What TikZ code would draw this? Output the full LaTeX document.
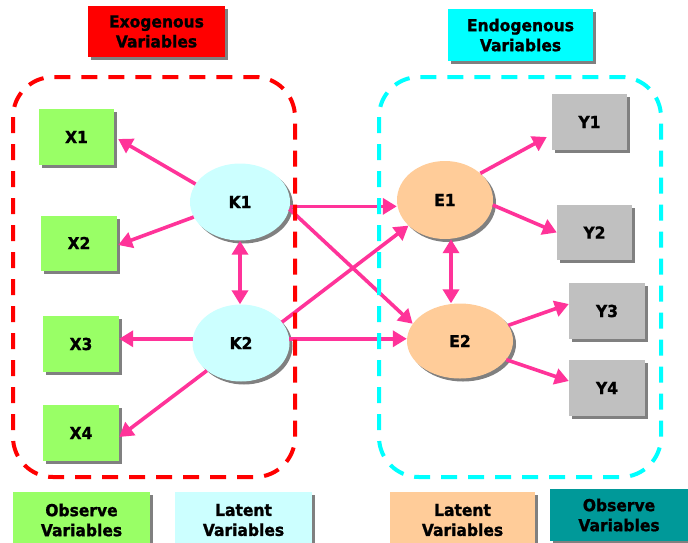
\documentclass[tikz,border=0pt]{standalone}
\usepackage{fontspec}
\setmainfont{DejaVu Sans}[BoldFeatures={FakeBold=1.2, FakeStretch=0.94}]
\usetikzlibrary{arrows.meta,shadows,shapes.geometric}
\definecolor{obsgreen}{HTML}{99FF66}
\definecolor{obsgray}{HTML}{C0C0C0}
\definecolor{latcyan}{HTML}{CCFFFF}
\definecolor{latpeach}{HTML}{FFCC99}
\definecolor{exored}{HTML}{FF0000}
\definecolor{endocyan}{HTML}{00FFFF}
\definecolor{obsteal}{HTML}{009999}
\definecolor{pathpink}{HTML}{FF3399}
\definecolor{shadowgray}{HTML}{808080}
\tikzset{
  lbl/.style={font=\bfseries\fontsize{16.5}{20}\selectfont, align=center, text=black},
  sh/.style={drop shadow={shadow xshift=3pt, shadow yshift=-3pt, fill=shadowgray, opacity=1}},
  box/.style={lbl, rectangle, inner sep=0pt, sh},
  latent/.style={lbl, ellipse, inner sep=0pt, sh},
  path/.style={draw=pathpink, line width=3.6pt, -{Triangle[length=14pt,width=16pt]}},
  bipath/.style={draw=pathpink, line width=3.6pt, {Triangle[length=14pt,width=16pt]}-{Triangle[length=14pt,width=16pt]}},
  frame/.style={line width=4pt, rounded corners=40pt, dash pattern=on 16pt off 11pt}
}
\begin{document}
\begin{tikzpicture}[x=1pt,y=-1pt]
\useasboundingbox (0,0) rectangle (688,542);

% group headings
\node[box, fill=exored, minimum width=137pt, minimum height=51pt] (exo) at (156.5,31.5) {Exogenous\\Variables};
\node[box, fill=endocyan, minimum width=145pt, minimum height=52pt] (endo) at (520.5,35) {Endogenous\\Variables};

% observed indicators
\node[box, fill=obsgreen, minimum width=75pt, minimum height=56pt] (X1) at (76.5,137) {X1};
\node[box, fill=obsgreen, minimum width=76pt, minimum height=55pt] (X2) at (79,243) {X2};
\node[box, fill=obsgreen, minimum width=76pt, minimum height=56pt] (X3) at (81,344) {X3};
\node[box, fill=obsgreen, minimum width=76pt, minimum height=56pt] (X4) at (81,433) {X4};
\node[box, fill=obsgray, minimum width=75pt, minimum height=56pt] (Y1) at (589.5,122) {Y1};
\node[box, fill=obsgray, minimum width=75pt, minimum height=55pt] (Y2) at (594.5,232.5) {Y2};
\node[box, fill=obsgray, minimum width=76pt, minimum height=56pt] (Y3) at (607,311) {Y3};
\node[box, fill=obsgray, minimum width=76pt, minimum height=56pt] (Y4) at (607,388) {Y4};

% latent variables
\node[latent, fill=latcyan, minimum width=100pt, minimum height=77pt] (K1) at (240,202) {K1};
\node[latent, fill=latcyan, minimum width=97pt, minimum height=77pt] (K2) at (241,343) {K2};
\node[latent, fill=latpeach, minimum width=96pt, minimum height=78pt] (E1) at (445,200) {E1};
\node[latent, fill=latpeach, minimum width=106pt, minimum height=75pt] (E2) at (460,341) {E2};

% measurement paths
\draw[path] (K1.158) -- ([xshift=4pt,yshift=-2pt]X1.east);
\draw[path] (K1.198) -- ([xshift=1pt,yshift=-2pt]X2.east);
\draw[path] (K2.175) -- (K2.175 -| X3.east);
\draw[path] (K2.219) -- ([yshift=-4pt]X4.east);
\draw[path] (E1.37) -- ([xshift=-5pt,yshift=-15pt]Y1.west);
\draw[path] (E1.-6) -- (Y2.west);
\draw[path] (E2.18) -- ([yshift=7pt]Y3.west);
\draw[path] (E2.-22) -- ([yshift=7pt]Y4.west);

% structural paths
\draw[path] (K1.-5) -- (K1.-5 -| E1.west);
\draw[path] (K1.-8) -- (E2.160);
\draw[path] (K2.27) -- (E1.215);
\draw[path] (K2.5) -- (K2.5 -| E2.west);

% correlations
\draw[bipath] (K1.south) -- (K1.south |- K2.north);
\draw[bipath] ([xshift=6pt]E1.south) -- ([xshift=6pt]E1.south |- E2.north);

% group frames
\draw[frame, draw=exored] (13,77) rectangle (295,477);
\draw[frame, draw=endocyan] (379,77) rectangle (661,477);

% legend
\node[box, fill=obsgreen, minimum width=137pt, minimum height=56pt] (legobs) at (81.5,520) {Observe\\Variables};
\node[box, fill=latcyan, minimum width=137pt, minimum height=56pt] (leglatk) at (243.5,520) {Latent\\Variables};
\node[box, fill=latpeach, minimum width=145pt, minimum height=56pt] (leglate) at (462.5,520) {Latent\\Variables};
\node[box, fill=obsteal, minimum width=138pt, minimum height=52pt] (legobsy) at (619,515) {Observe\\Variables};
\end{tikzpicture}
\end{document}
